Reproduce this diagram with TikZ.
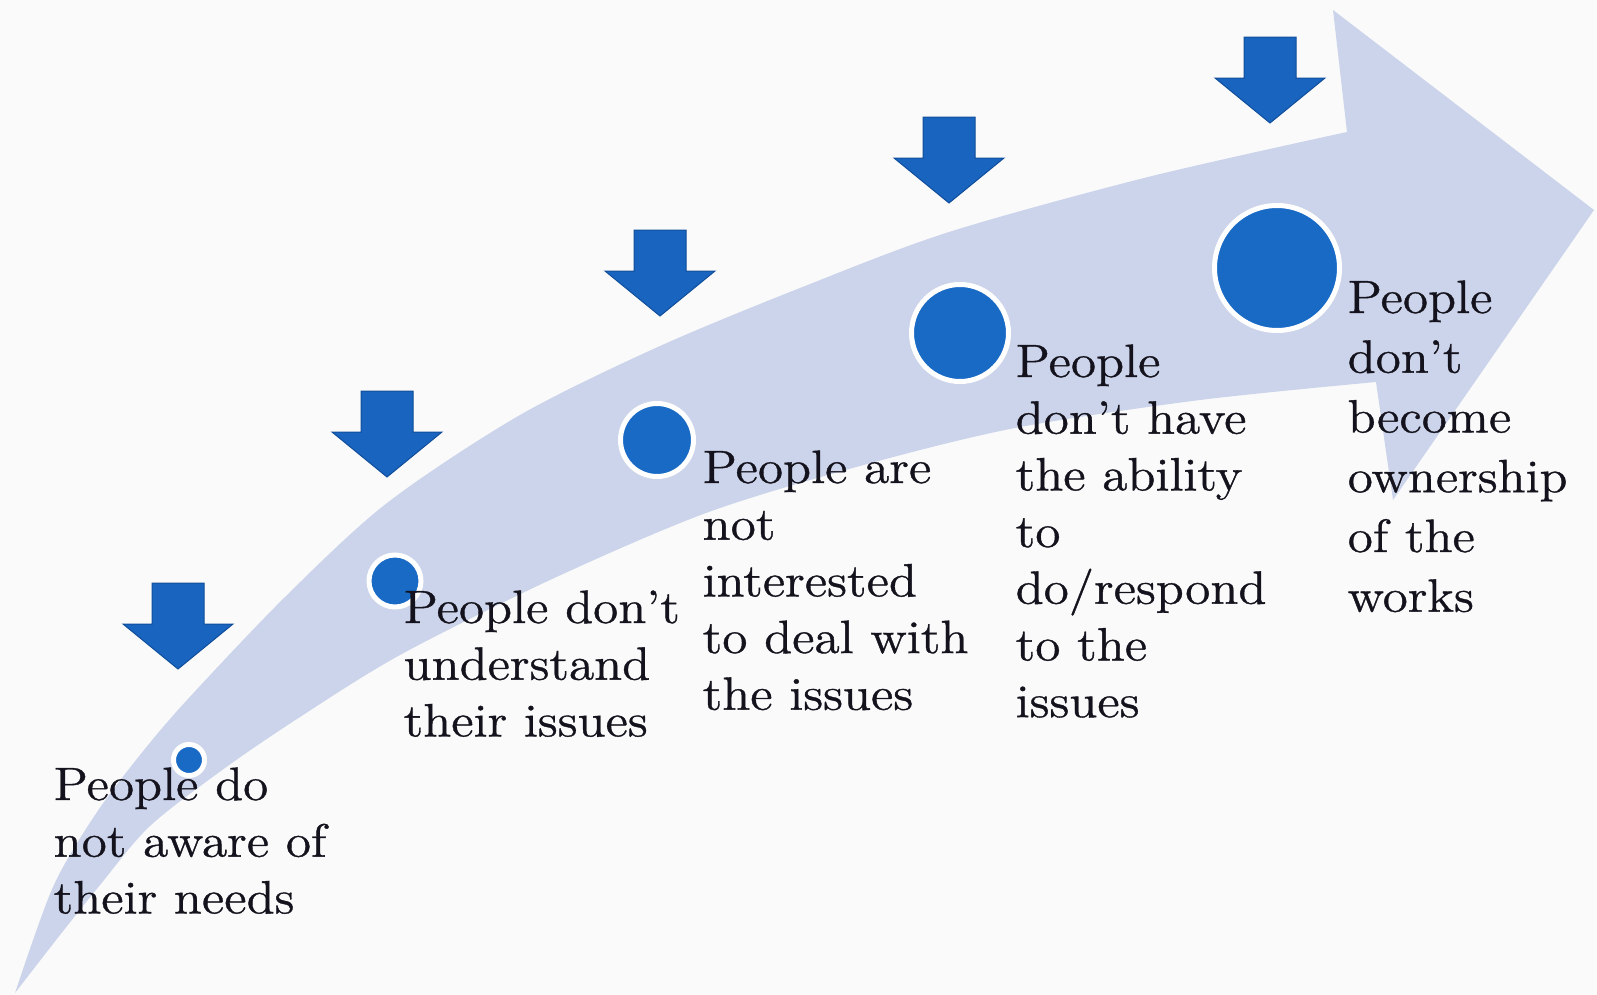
\documentclass[tikz,border=0pt]{standalone}
\usepackage{fontspec}
\setmainfont{Latin Modern Roman}[FakeStretch=1.1, FakeBold=0.8]
\usetikzlibrary{positioning}
\definecolor{bgcol}{RGB}{250,250,250}
\definecolor{bandcol}{RGB}{203,212,234}
\definecolor{dotcol}{RGB}{24,106,196}
\definecolor{downcol}{RGB}{25,100,190}
\definecolor{downedge}{RGB}{16,78,155}
\definecolor{inkcol}{RGB}{20,18,28}

\begin{document}
\begin{tikzpicture}[x=0.1mm, y=-0.1mm,
 dotnode/.style={circle, fill=dotcol, draw=white, line width=0.5mm, inner sep=0pt},
 stepnode/.style={anchor=base west, inner sep=0pt, text=inkcol, font=\fontsize{13.3}{16.13}\selectfont},
 downarrow/.style={fill=downcol, draw=downedge, line width=0.1mm, line join=miter}
 ]

 %Background
 \fill[bgcol] (0,0) rectangle (1597,995);
 \useasboundingbox (0,0) rectangle (1597,995);

 %Big arrow
 \fill[bandcol] plot[smooth] coordinates {(15,993) (53,887) (95,815) (140,755) (187,700) (285,597) (387,503) (520,415) (660,346) (805,286) (949,232) (1148,177) (1347,132)}
   -- (1333,10) -- (1594,210) -- (1393,500)
   -- plot[smooth] coordinates {(1376,382) (1200,400) (1015,428) (860,466) (706,513) (550,580) (400,655) (300,717) (225,768) (150,826) (100,885) (60,935) (15,993)} -- cycle;

 %Down arrows
 \foreach \ax/\ay in {178/583, 387/391, 660/230, 949/117, 1270/37}
  \draw[downarrow] (\ax-26,\ay) -- (\ax+26,\ay) -- (\ax+26,\ay+41) -- (\ax+55,\ay+41) -- (\ax,\ay+86) -- (\ax-55,\ay+41) -- (\ax-26,\ay+41) -- cycle;

 %Dots
 \node[dotnode, minimum size=3.1mm]  (dot1_node) at (189,760) {};
 \node[dotnode, minimum size=5.2mm]  (dot2_node) at (395,581) {};
 \node[dotnode, minimum size=7.3mm]  (dot3_node) at (657,440) {};
 \node[dotnode, minimum size=9.7mm]  (dot4_node) at (960,333) {};
 \node[dotnode, minimum size=12.5mm] (dot5_node) at (1277,268) {};

 %Texts
 \node[stepnode] (aware_node) at (53,800) {\begin{tabular}[t]{@{}l@{}}People do\\not aware of\\their needs\end{tabular}};
 \node[stepnode] (understand_node) at (403,623) {\begin{tabular}[t]{@{}l@{}}People don't\\understand\\their issues\end{tabular}};
 \node[stepnode] (interest_node) at (702,483) {\begin{tabular}[t]{@{}l@{}}People are\\not\\interested\\to deal with\\the issues\end{tabular}};
 \node[stepnode] (ability_node) at (1015,377) {\begin{tabular}[t]{@{}l@{}}People\\don't have\\the ability\\to\\do/respond\\to the\\issues\end{tabular}};
 \node[stepnode, font=\fontsize{13.3}{17}\selectfont] (owner_node) at (1347,313) {\begin{tabular}[t]{@{}l@{}}People\\don't\\become\\ownership\\of the\\works\end{tabular}};
\end{tikzpicture}
\end{document}
